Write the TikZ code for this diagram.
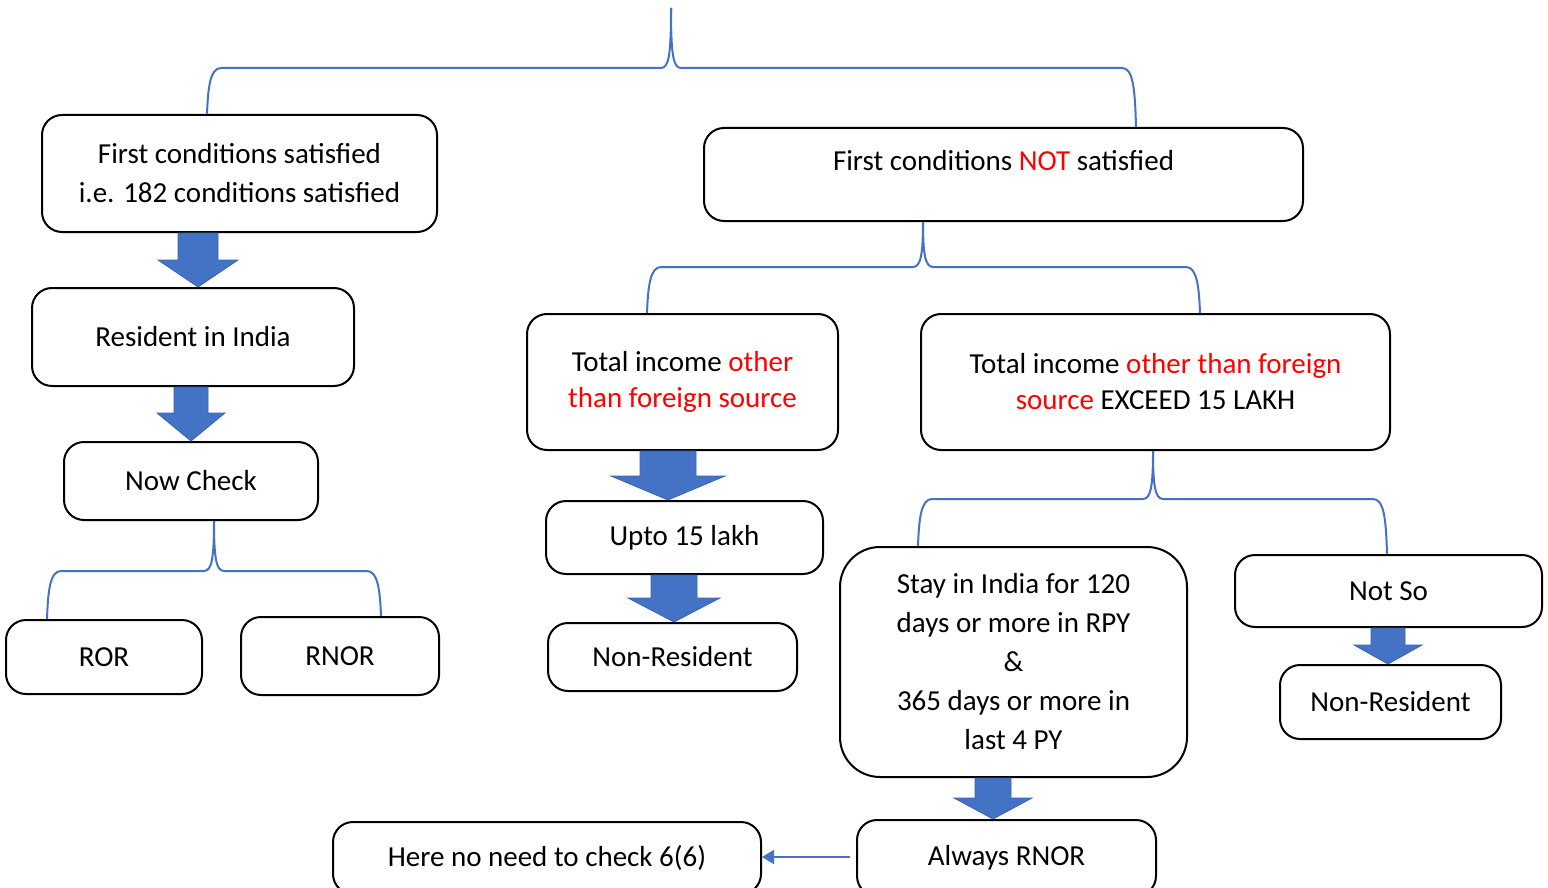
\documentclass[tikz,border=0pt]{standalone}
\usepackage{xcolor}
\usepackage{fontspec}
\setmainfont{Carlito}
\usepackage{tikz}
\usetikzlibrary{positioning,calc,arrows.meta}

\definecolor{linkblue}{HTML}{4472C4}
\definecolor{edgeblue}{HTML}{3A64AE}
\definecolor{hotred}{HTML}{FF0000}

\tikzset{
    box/.style={draw, line width=1pt, rounded corners=10pt, inner sep=0pt, align=center,
        font=\fontsize{14.5}{19.5}\selectfont},
    brace/.style={draw=linkblue, line width=1pt},
    blockarrow/.style={fill=linkblue, draw=edgeblue, line width=0.4pt},
    thinarrow/.style={draw=linkblue, line width=1pt, -{Triangle[length=6pt,width=7pt]}},
}

% block arrow pointing down: from, to, x, shaft half, head half, head top
\newcommand{\blockdown}[6]{%
    \draw[blockarrow] (#3-#4,0 |- #1) -- (#3+#4,0 |- #1) -- (#3+#4,#6) -- (#3+#5,#6)
        -- (#3,0 |- #2) -- (#3-#5,#6) -- (#3-#4,#6) -- cycle;}

% curly brace: tip x, mid y, left x, right x, tip, left end, right end
\newcommand{\splitbrace}[7]{%
    \draw[brace] (#3,0 |- #6) .. controls (#3+1,#2+20) and (#3+3,#2) .. (#3+14,#2)
        -- (#1-10,#2) .. controls (#1-2,#2) and (#1,#2-14) .. (#1,0 |- #5);
    \draw[brace] (#1,0 |- #5) .. controls (#1,#2-14) and (#1+2,#2) .. (#1+10,#2)
        -- (#4-14,#2) .. controls (#4-3,#2) and (#4-1,#2+20) .. (#4,0 |- #7);}

\begin{document}
\begin{tikzpicture}[x=0.5pt, y=-0.5pt]
    \useasboundingbox (0,0) rectangle (1548,888);

    \coordinate (top) at (671,8);

    % left side
    \node[box, minimum width=197.5pt, minimum height=58.5pt] (cond) at (239.5,173.5)
        {First conditions satisfied\\i.e. 182 conditions satisfied};
    \node[box, minimum width=161pt, minimum height=49pt] (resident) at (193,337) {Resident in India};
    \node[box, minimum width=127pt, minimum height=39pt] (check) at (191,481) {Now Check};
    \node[box, minimum width=98pt, minimum height=37pt] (ror) at (104,657) {ROR};
    \node[box, minimum width=99pt, minimum height=39pt] (rnor) at (340,656) {RNOR};

    % right side
    \node[box, minimum width=299.5pt, minimum height=46.5pt, text height=9pt, text depth=13pt]
        (notcond) at (1003.5,174.5) {First conditions \textcolor{hotred}{NOT} satisfied};
    \node[box, minimum width=155.5pt, minimum height=68pt] (other) at (682.5,382)
        {Total income \textcolor{hotred}{other}\\[-1.5pt]\textcolor{hotred}{than foreign source}};
    \node[box, minimum width=234.5pt, minimum height=68pt] (exceed) at (1155.5,382)
        {Total income \textcolor{hotred}{other than foreign}\\[-1.5pt]\textcolor{hotred}{source} EXCEED 15 LAKH};
    \node[box, minimum width=138.5pt, minimum height=36.5pt] (upto) at (684.5,537.5) {Upto 15 lakh};
    \node[box, minimum width=124.5pt, minimum height=34pt] (nonres) at (672.5,657) {Non-Resident};
    \node[box, rounded corners=20pt, minimum width=173.5pt, minimum height=115pt] (stay) at (1013.5,662)
        {Stay in India for 120\\days or more in RPY\\\&\\365 days or more in\\last 4 PY};
    \node[box, minimum width=153.5pt, minimum height=36pt] (notso) at (1388.5,591) {Not So};
    \node[box, minimum width=110.5pt, minimum height=37pt] (nonresb) at (1390.5,702) {Non-Resident};
    \node[box, minimum width=149.5pt, minimum height=38pt] (always) at (1006.5,858) {Always RNOR};
    \node[box, minimum width=214pt, minimum height=36pt] (here) at (547,858) {Here no need to check 6(6)};

    % braces
    \splitbrace{671}{68}{207}{1136}{top}{cond.north}{notcond.north}
    \splitbrace{923}{267}{647}{1200}{notcond.south}{other.north}{exceed.north}
    \splitbrace{1153}{499}{918}{1387}{exceed.south}{stay.north}{notso.north}
    \splitbrace{214}{571}{47}{381}{check.south}{ror.north}{rnor.north}

    % block arrows
    \blockdown{cond.south}{resident.north}{198}{20}{40}{260}
    \blockdown{resident.south}{check.north}{191}{17}{34}{413}
    \blockdown{other.south}{upto.north}{668}{28}{57}{476}
    \blockdown{upto.south}{nonres.north}{674}{23}{46}{598}
    \blockdown{stay.south}{always.north}{993}{18}{39}{798}
    \blockdown{notso.south}{nonresb.north}{1388}{17}{34}{645}

    \draw[thinarrow] ([xshift=-3pt]always.west |- 0,857) -- (here.east |- 0,857);
\end{tikzpicture}
\end{document}
